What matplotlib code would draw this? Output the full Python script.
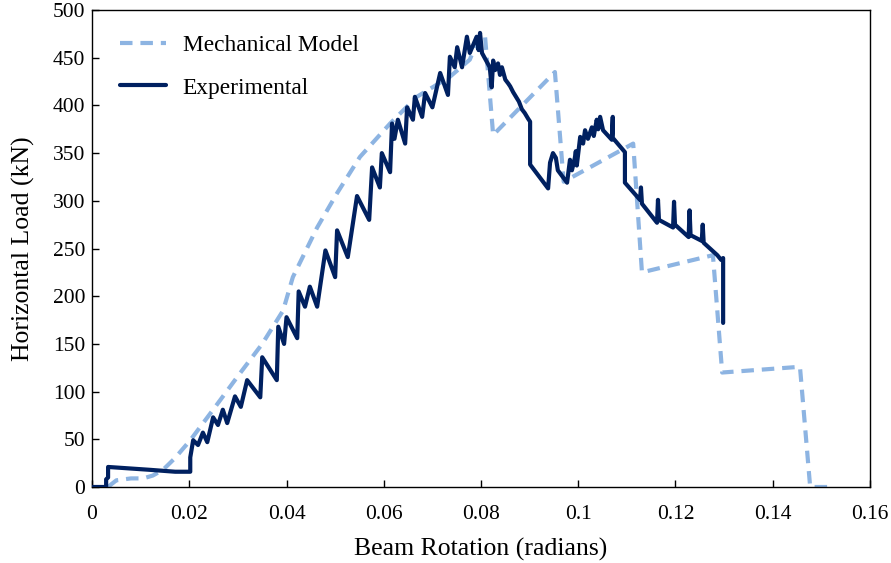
import matplotlib.pyplot as plt

# Mechanical model (dashed)
model_rot = [0.0033, 0.0040, 0.0050, 0.0080, 0.0105, 0.0125, 0.0146, 0.0170, 0.0202,
             0.0249, 0.0304, 0.0350, 0.0393, 0.0413, 0.0463, 0.0504, 0.0551, 0.0613,
             0.0668, 0.0736, 0.0777, 0.0794, 0.0808, 0.0825, 0.0952, 0.0970, 0.1113,
             0.1131, 0.1277, 0.1296, 0.1456, 0.1477, 0.1518]
model_load = [0, 3, 7, 9, 9, 12, 18, 30, 49,
              81, 119, 150, 185, 220, 272, 308, 346, 381,
              409, 430, 448, 470, 474, 369, 435, 320, 360,
              225, 243, 120, 126, 0, 0]

# Experimental (solid)
exp_rot = [0.0, 0.0029, 0.0029, 0.0033, 0.0033, 0.0119, 0.0171, 0.0202, 0.0202,
           0.0208, 0.0218, 0.0228, 0.0237, 0.0249, 0.0259, 0.0269, 0.0278, 0.0294,
           0.0306, 0.0319, 0.0346, 0.0350, 0.0380, 0.0383, 0.0395, 0.0400, 0.0422,
           0.0425, 0.0438, 0.0448, 0.0463, 0.0480, 0.0500, 0.0504, 0.0526, 0.0545,
           0.0570, 0.0576, 0.0592, 0.0596, 0.0613, 0.0617, 0.0622, 0.0629, 0.0644,
           0.0648, 0.0660, 0.0664, 0.0679, 0.0685, 0.0700, 0.0716, 0.0732, 0.0736,
           0.0746, 0.0751, 0.0761, 0.0771, 0.0777, 0.0791, 0.0795, 0.0798, 0.0802,
           0.0818, 0.0822, 0.0825, 0.0829, 0.0835, 0.0839, 0.0843, 0.0850, 0.0856,
           0.0860, 0.0866, 0.0872, 0.0878, 0.0884, 0.0890, 0.0897, 0.0901, 0.0901,
           0.0938, 0.0942, 0.0948, 0.0954, 0.0958, 0.0977, 0.0983, 0.0987, 0.0993,
           0.0995, 0.0997, 0.1004, 0.1010, 0.1014, 0.1020, 0.1028, 0.1032, 0.1038,
           0.1041, 0.1045, 0.1051, 0.1069, 0.1071, 0.1071, 0.1096, 0.1096, 0.1127,
           0.1129, 0.1131, 0.1162, 0.1164, 0.1166, 0.1195, 0.1197, 0.1199, 0.1227,
           0.1229, 0.1231, 0.1254, 0.1256, 0.1258, 0.1286, 0.1294, 0.1298, 0.1298]
exp_load = [0, 0, 8, 10, 21, 18, 16, 16, 31,
            49, 44, 57, 47, 73, 65, 81, 67, 95,
            84, 112, 94, 136, 112, 168, 150, 178, 156,
            205, 189, 210, 189, 248, 220, 269, 241, 305,
            280, 335, 314, 350, 330, 381, 365, 385, 360,
            398, 385, 409, 388, 413, 398, 434, 411, 451,
            440, 461, 440, 472, 455, 472, 458, 476, 455,
            440, 419, 447, 437, 444, 432, 440, 427, 423,
            420, 414, 409, 404, 396, 392, 386, 383, 338,
            313, 340, 350, 345, 332, 319, 343, 332, 345,
            352, 337, 367, 360, 374, 365, 377, 368, 385,
            375, 388, 374, 364, 388, 366, 351, 319, 301,
            314, 297, 277, 301, 280, 272, 299, 275, 262,
            290, 264, 258, 275, 256, 243, 238, 240, 172]

x_ticks = [0, 0.02, 0.04, 0.06, 0.08, 0.1, 0.12, 0.14, 0.16]
x_tick_labels = ["0", "0.02", "0.04", "0.06", "0.08", "0.1", "0.12", "0.14", "0.16"]
y_ticks = [0, 50, 100, 150, 200, 250, 300, 350, 400, 450, 500]

plt.rcParams["font.family"] = ["Liberation Serif", "DejaVu Serif"]

fig = plt.figure(figsize=(8.91, 5.63), dpi=100)
ax = fig.add_axes([0.1033, 0.135, 0.8731, 0.8472])

ax.plot(model_rot, model_load, color="#8db4e2", linewidth=3.0,
        linestyle=(0, (3.0, 1.9)), label="Mechanical Model", zorder=2)
ax.plot(exp_rot, exp_load, color="#002060", linewidth=3.0,
        solid_joinstyle="round", solid_capstyle="round",
        label="Experimental", zorder=3)

ax.set_xlim(0, 0.16)
ax.set_ylim(0, 500)
ax.set_xticks(x_ticks)
ax.set_xticklabels(x_tick_labels)
ax.set_yticks(y_ticks)
ax.tick_params(direction="in", labelsize=15.5, length=5, width=1, colors="black")
ax.tick_params(axis="x", pad=13)
ax.tick_params(axis="y", pad=5)
for s in ax.spines.values():
    s.set_linewidth(1.0)
    s.set_color("black")

ax.set_xlabel("Beam Rotation (radians)", fontsize=18.5, labelpad=10)
ax.set_ylabel("Horizontal Load (kN)", fontsize=18.5, labelpad=12.5)

ax.legend(loc="upper left", frameon=False, fontsize=16.8, handlelength=2.0,
          handletextpad=0.7, labelspacing=0.91, borderaxespad=0.0,
          bbox_to_anchor=(0.0236, 0.968))

fig.savefig("out.png", dpi=100)
